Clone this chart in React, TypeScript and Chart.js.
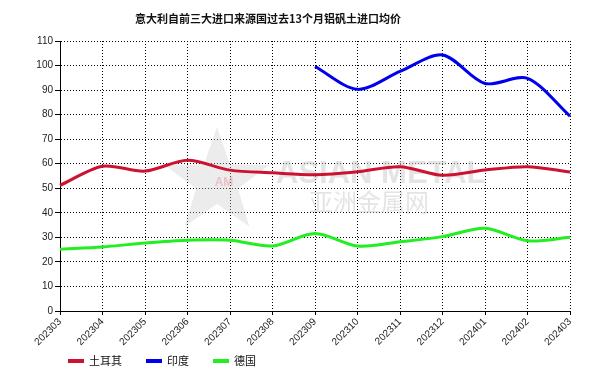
import React, { useEffect, useRef } from "react";
import { Chart, registerables } from "chart.js";

Chart.register(...registerables);

const titleText = "意大利自前三大进口来源国过去13个月铝矾土进口均价";
const categories = [
  "202303", "202304", "202305", "202306", "202307", "202308", "202309",
  "202310", "202311", "202312", "202401", "202402", "202403",
];
const seriesNames = ["土耳其", "印度", "德国"];
const turkey = [51.2, 59.0, 57.0, 61.4, 57.4, 56.3, 55.5, 56.7, 58.8, 55.3, 57.4, 58.8, 56.6];
const india = [null, null, null, null, null, null, 99.6, 90.3, 97.6, 104.3, 92.7, 94.8, 79.4];
const germany = [25.2, 26.1, 27.7, 28.8, 28.8, 26.5, 31.6, 26.5, 28.2, 30.3, 33.7, 28.6, 30.0];
const seriesColors = ["#cc1230", "#0000ee", "#22ee22"];
const yMin = 0;
const yMax = 110;
const yStep = 10;
const watermarkEn = "ASIAN METAL";
const watermarkCn = "亚洲金属网";

const tickFont = { family: "'Liberation Sans', Arial, sans-serif", size: 10 };

const titlePlugin = {
  id: "customTitle",
  afterDraw(chart: any) {
    const ctx = chart.ctx;
    ctx.save();
    ctx.font = "bold 11px 'Noto Sans CJK SC', sans-serif";
    ctx.fillStyle = "#111";
    ctx.textAlign = "center";
    ctx.textBaseline = "middle";
    ctx.fillText(titleText, 268, 19);
    ctx.restore();
  },
};

const watermarkPlugin = {
  id: "watermark",
  beforeDatasetsDraw(chart: any) {
    const ctx = chart.ctx;
    ctx.save();
    // star
    const cx = 217, cy = 182, R = 55, r = 22;
    ctx.beginPath();
    for (let i = 0; i < 10; i++) {
      const rad = i % 2 === 0 ? R : r;
      const a = -Math.PI / 2 + (i * Math.PI) / 5;
      const px = cx + rad * Math.cos(a);
      const py = cy + rad * Math.sin(a);
      if (i === 0) ctx.moveTo(px, py);
      else ctx.lineTo(px, py);
    }
    ctx.closePath();
    ctx.fillStyle = "rgba(200,200,200,0.35)";
    ctx.fill();
    ctx.font = "bold 12px 'Liberation Sans', sans-serif";
    ctx.fillStyle = "rgba(230,150,160,0.5)";
    ctx.textAlign = "center";
    ctx.textBaseline = "middle";
    ctx.fillText("AM", 224, 183);
    ctx.fillStyle = "rgba(205,205,205,0.55)";
    ctx.textAlign = "left";
    ctx.font = "bold 31px 'Liberation Sans', sans-serif";
    ctx.fillText(watermarkEn, 276, 174);
    ctx.font = "24px 'Noto Sans CJK SC', sans-serif";
    ctx.fillText(watermarkCn, 309, 202);
    ctx.restore();
  },
};

const legendPlugin = {
  id: "customLegend",
  afterDraw(chart: any) {
    const ctx = chart.ctx;
    ctx.save();
    ctx.font = "11px 'Noto Sans CJK SC', sans-serif";
    ctx.textBaseline = "middle";
    ctx.textAlign = "left";
    let x = 68;
    const y = 361;
    chart.data.datasets.forEach((ds: any) => {
      ctx.fillStyle = ds.borderColor;
      ctx.fillRect(x, y - 2, 16, 4);
      x += 21;
      ctx.fillStyle = "#111";
      ctx.fillText(ds.label, x, y);
      x += ctx.measureText(ds.label).width + 24;
    });
    ctx.restore();
  },
};

export default function App() {
  const ref = useRef<HTMLCanvasElement | null>(null);

  useEffect(() => {
    if (!ref.current) return;
    const series = [turkey, india, germany];
    const chart = new Chart(ref.current, {
      type: "line",
      data: {
        labels: categories,
        datasets: series.map((d, i) => ({
          label: seriesNames[i],
          data: d,
          borderColor: seriesColors[i],
          backgroundColor: seriesColors[i],
          borderWidth: 3,
          pointRadius: 0,
          pointHoverRadius: 0,
          tension: 0.3,
          fill: false,
          spanGaps: false,
        })),
      },
      options: {
        responsive: false,
        animation: false,
        layout: { padding: { top: 41, left: 0, right: 32, bottom: 0 } },
        plugins: {
          legend: { display: false },
          title: { display: false },
          tooltip: { enabled: false },
        },
        scales: {
          x: {
            type: "category",
            offset: false,
            grid: {
              color: "#000",
              lineWidth: 1,
              tickLength: 4,
              tickColor: "#000",
              tickBorderDash: [10, 0],
            },
            border: { color: "#000", width: 1, dash: [1, 2] },
            ticks: {
              autoSkip: false,
              maxRotation: 45,
              minRotation: 45,
              color: "#222",
              font: tickFont,
              padding: 1,
            },
            afterFit: (s: any) => {
              s.height = 66;
            },
          },
          y: {
            min: yMin,
            max: yMax,
            grid: {
              color: "#000",
              lineWidth: 1,
              tickLength: 5,
              tickColor: "#000",
              tickBorderDash: [10, 0],
            },
            border: { color: "#000", width: 1, dash: [1, 2] },
            ticks: {
              stepSize: yStep,
              color: "#222",
              font: tickFont,
              padding: 2,
            },
            afterFit: (s: any) => {
              s.width = 60;
            },
          },
        },
      },
      plugins: [watermarkPlugin, titlePlugin, legendPlugin],
    } as any);
    return () => chart.destroy();
  }, []);

  return (
    <div style={{ position: "absolute", left: 0, top: 0, width: 602, height: 377, background: "#fff" }}>
      <canvas ref={ref} width={602} height={377} style={{ display: "block" }} />
    </div>
  );
}
